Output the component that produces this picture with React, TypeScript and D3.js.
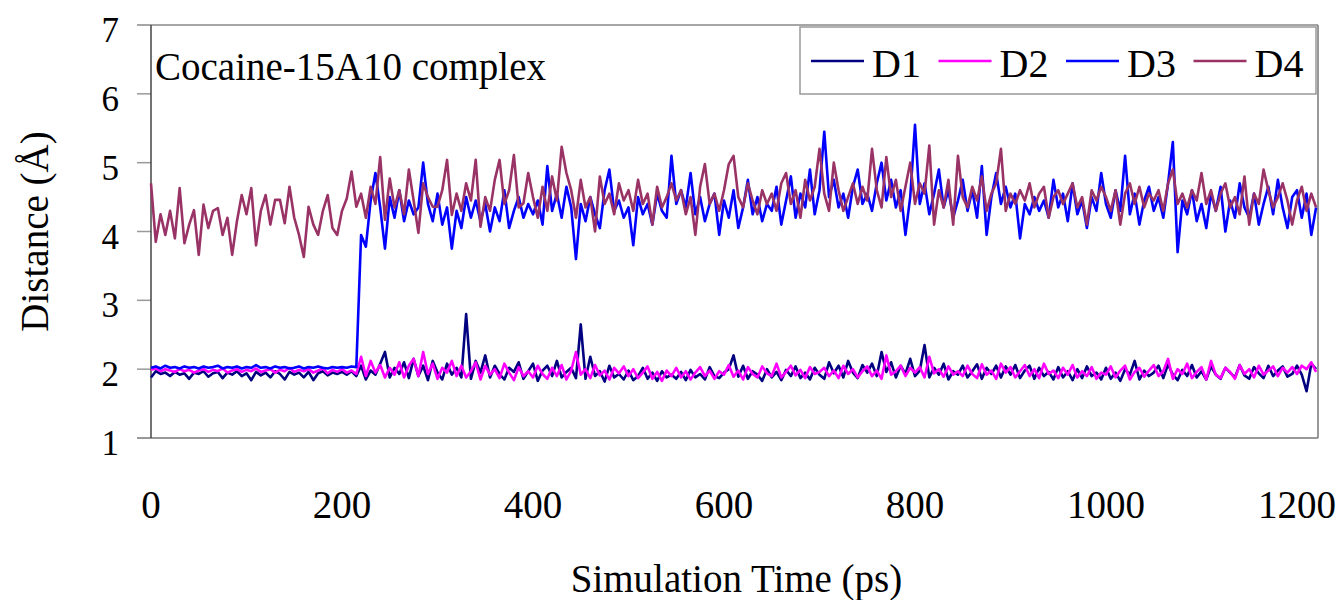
import React from 'react';
import * as d3 from 'd3';

// time axis: one sample every 5 ps, 0 .. 1220 ps
const STEP = 5;

const seriesNames = ['D1', 'D2', 'D3', 'D4'];
const seriesColors = ['#000080', '#FF00FF', '#0000FF', '#993366'];

const yTicks = [1, 2, 3, 4, 5, 6, 7];
const xTicks = [0, 200, 400, 600, 800, 1000, 1200];

const d1 = [
  1.88, 1.97, 1.93, 1.95, 1.90, 1.96, 1.92, 1.94, 1.86, 1.95,
  1.93, 1.97, 1.89, 1.94, 1.96, 1.87, 1.95, 1.92, 1.97, 1.90,
  1.94, 1.84, 1.96, 1.91, 1.95, 1.88, 1.97, 1.93, 1.85, 1.96,
  1.92, 1.95, 1.88, 1.96, 1.84, 1.94, 1.97, 1.91, 1.95, 1.93,
  1.96, 1.92, 1.97, 1.90, 2.05, 1.85, 1.98, 1.92, 2.08, 2.25,
  1.88, 2.02, 1.93, 2.10, 1.87, 2.15, 1.90, 2.05, 1.84, 2.12,
  1.95, 1.85, 2.08, 1.92, 2.02, 1.88, 2.80, 1.86, 2.12, 1.95,
  2.20, 1.88, 2.05, 1.93, 1.85, 2.02, 1.96, 2.10, 1.86, 1.97,
  2.08, 1.83, 1.98, 2.05, 1.90, 2.12, 1.88, 1.96, 2.02, 1.87,
  2.65, 1.86, 2.18, 1.90, 1.97, 1.82, 2.05, 1.88, 1.93, 1.85,
  1.98, 1.84, 1.90, 2.02, 1.86, 1.95, 1.83, 1.97, 1.88, 1.92,
  1.86, 1.96, 1.84, 1.99, 1.88, 1.93, 1.85, 2.03, 1.90, 1.87,
  1.95, 2.00, 2.20, 1.89, 2.05, 1.86, 1.97, 1.92, 1.83, 2.00,
  1.88, 1.96, 1.84, 1.99, 1.90, 2.04, 1.87, 1.95, 1.85, 2.02,
  1.92, 1.86, 2.10, 1.94, 2.05, 1.88, 2.12, 1.95, 1.87, 2.06,
  1.95, 2.08, 1.90, 2.25, 1.96, 2.10, 1.88, 2.05, 1.93, 2.15,
  1.90, 1.98, 2.35, 1.88, 2.02, 1.92, 2.08, 1.85, 1.97, 1.92,
  2.05, 1.88, 1.97, 2.07, 1.86, 2.02, 1.93, 2.05, 1.88, 2.04,
  1.92, 2.06, 1.87, 1.98, 2.05, 1.86, 2.02, 1.90, 1.96, 1.85,
  2.03, 1.88, 1.97, 1.84, 2.00, 1.87, 2.04, 1.90, 1.95, 1.85,
  2.02, 1.86, 1.95, 1.83, 2.00, 1.92, 2.12, 1.85, 1.98, 1.90,
  1.95, 2.05, 1.87, 2.07, 1.92, 1.84, 1.99, 1.90, 2.06, 1.88,
  1.97, 1.85, 2.04, 1.92, 1.86, 2.02, 1.95, 1.88, 2.06, 1.91,
  1.86, 2.03, 1.94, 1.87, 2.05, 1.90, 1.98, 2.04, 1.89, 1.93,
  2.05, 1.92, 1.68, 2.08, 2.00,
];

const d2 = [
  1.99, 2.01, 1.97, 2.00, 1.98, 1.96, 2.00, 1.97, 1.99, 1.95,
  1.98, 2.00, 1.96, 1.99, 1.97, 2.01, 1.95, 1.98, 2.00, 1.96,
  1.99, 1.97, 2.01, 1.96, 1.98, 2.00, 1.95, 1.99, 1.97, 2.02,
  1.96, 1.99, 1.97, 2.00, 1.95, 1.98, 2.01, 1.94, 1.99, 1.96,
  2.00, 1.95, 1.98, 1.93, 2.18, 1.90, 2.12, 1.95, 2.06, 1.88,
  2.02, 1.92, 2.10, 1.88, 2.05, 2.15, 1.90, 2.25, 1.93, 2.08,
  1.86, 2.02, 1.95, 2.12, 1.90, 2.05, 1.88, 1.97, 2.10, 1.85,
  2.05, 1.92, 2.00, 1.87, 2.08, 1.95, 1.84, 2.03, 1.90, 1.97,
  1.88, 2.05, 1.93, 1.86, 2.02, 1.90, 2.06, 1.85, 1.98, 2.25,
  1.92, 2.00, 1.87, 2.06, 1.91, 1.98, 1.85, 2.02, 1.94, 2.04,
  1.90, 2.00, 1.87, 1.95, 2.04, 1.86, 1.96, 1.83, 1.98, 1.90,
  2.02, 1.88, 1.97, 1.85, 1.95, 2.03, 1.90, 1.98, 1.86, 1.97,
  1.92, 2.06, 1.89, 1.98, 1.85, 2.03, 1.93, 1.88, 2.04, 1.94,
  1.90, 2.08, 1.88, 1.96, 2.05, 1.91, 1.99, 1.87, 2.03, 1.93,
  1.96, 2.02, 1.90, 1.98, 1.87, 2.05, 1.93, 2.00, 1.88, 1.97,
  2.04, 1.90, 1.98, 1.86, 2.20, 1.92, 1.97, 2.05, 1.90, 2.02,
  1.95, 2.03, 1.88, 2.18, 1.94, 2.00, 1.89, 2.04, 1.92, 1.97,
  1.90, 2.05, 1.93, 1.87, 2.07, 1.92, 1.98, 1.86, 2.08, 1.95,
  2.03, 1.88, 1.97, 2.06, 1.90, 2.00, 1.87, 2.08, 1.93, 1.98,
  1.87, 2.02, 1.92, 2.06, 1.88, 1.97, 1.90, 2.03, 1.86, 1.95,
  1.92, 2.04, 1.88, 1.98, 2.05, 1.85, 1.96, 2.02, 1.89, 1.98,
  2.06, 1.90, 1.97, 2.15, 1.86, 2.00, 1.93, 2.08, 1.87, 1.96,
  2.03, 1.85, 2.12, 1.92, 1.87, 2.02, 1.96, 1.86, 2.06, 1.93,
  2.00, 1.88, 2.05, 1.92, 1.98, 2.04, 1.90, 2.02, 1.95, 2.03,
  1.93, 2.05, 2.00, 2.10, 1.96,
];

const d3v = [
  2.02, 2.04, 2.01, 2.05, 2.02, 2.03, 2.01, 2.04, 2.02, 2.03,
  2.01, 2.04, 2.02, 2.03, 2.05, 2.01, 2.03, 2.02, 2.04, 2.01,
  2.03, 2.02, 2.06, 2.02, 2.03, 2.01, 2.04, 2.02, 2.03, 2.01,
  2.02, 2.04, 2.01, 2.03, 2.02, 2.04, 2.02, 2.01, 2.03, 2.02,
  2.03, 2.02, 2.04, 2.03, 3.95, 3.78, 4.45, 4.85, 4.35, 3.75,
  4.50, 4.20, 4.60, 4.15, 4.45, 4.25, 4.35, 5.00, 4.40, 4.15,
  4.55, 4.10, 4.35, 3.75, 4.30, 4.05, 4.50, 4.20, 4.45, 4.15,
  4.40, 4.00, 4.35, 4.15, 4.60, 4.05, 4.30, 4.50, 4.20, 4.40,
  4.25, 4.45, 4.10, 4.95, 4.30, 4.55, 4.20, 4.65, 4.35, 3.60,
  4.40, 4.15, 4.50, 4.25, 4.05, 4.60, 4.90, 4.30, 4.45, 4.20,
  4.35, 3.80, 4.50, 4.25, 4.40, 4.10, 4.55, 4.30, 4.20, 5.10,
  4.40, 4.60, 4.35, 4.85, 4.25, 4.50, 4.15, 4.40, 4.55, 3.95,
  4.45, 4.20, 4.60, 4.05, 4.35, 4.75, 4.25, 4.50, 4.15, 4.40,
  4.30, 4.65, 4.10, 4.45, 4.80, 4.20, 4.55, 4.35, 4.90, 4.25,
  4.60, 5.45, 4.50, 4.75, 4.35, 4.55, 4.20, 4.65, 4.90, 4.40,
  4.55, 4.30, 4.70, 5.00, 4.45, 4.75, 4.35, 4.60, 3.95, 4.50,
  5.55, 4.40, 4.70, 4.25, 4.55, 4.90, 4.35, 4.60, 4.20, 4.45,
  4.75, 4.30, 4.60, 4.20, 4.95, 3.95, 4.50, 4.85, 4.40, 4.65,
  4.35, 4.55, 3.90, 4.40, 4.25, 4.50, 4.30, 4.45, 4.20, 4.75,
  4.35, 4.55, 4.15, 4.70, 4.25, 4.45, 4.05, 4.50, 4.30, 4.85,
  4.40, 4.20, 4.60, 4.30, 5.10, 4.25, 4.55, 4.10, 4.45, 4.65,
  4.30, 4.50, 4.20, 4.70, 5.30, 3.70, 4.45, 4.25, 4.60, 4.15,
  4.40, 4.05, 4.55, 4.30, 4.65, 4.00, 4.45, 4.20, 4.70, 4.35,
  4.20, 4.55, 4.10, 4.40, 4.65, 4.25, 4.75, 4.35, 4.05, 4.50,
  4.60, 4.20, 4.55, 3.95, 4.35,
];

const d4 = [
  4.70, 3.85, 4.25, 3.95, 4.30, 3.90, 4.63, 3.83, 4.10, 4.31,
  3.66, 4.39, 4.05, 4.30, 4.34, 3.95, 4.20, 3.66, 4.15, 4.53,
  4.25, 4.63, 3.80, 4.30, 4.53, 4.10, 4.46, 4.46, 4.12, 4.65,
  4.20, 3.95, 3.63, 4.36, 4.10, 3.95, 4.30, 4.53, 4.05, 3.95,
  4.30, 4.48, 4.87, 4.36, 4.55, 4.20, 4.65, 4.40, 5.08, 4.17,
  4.77, 4.35, 4.60, 4.25, 4.90, 4.45, 3.98, 4.70, 4.50, 4.36,
  4.36, 4.60, 5.04, 4.24, 4.55, 4.30, 4.70, 4.45, 5.04, 4.07,
  4.50, 4.30, 4.75, 5.04, 4.40, 4.60, 5.11, 4.35, 4.41, 4.85,
  4.50, 4.20, 4.65, 4.30, 4.80, 4.45, 5.23, 4.85, 4.60, 4.20,
  4.75, 4.35, 4.50, 4.00, 4.80, 4.40, 4.55, 4.25, 4.70, 4.45,
  4.60, 4.30, 4.75, 4.40, 4.55, 4.10, 4.65, 4.35, 4.50, 4.70,
  4.45, 4.60, 4.25, 4.50, 3.95, 4.65, 4.98, 4.40, 4.55, 4.30,
  4.60, 4.98, 5.10, 4.50, 4.35, 4.70, 4.45, 4.25, 4.60, 4.40,
  4.55, 4.30, 4.70, 4.85, 4.40, 4.60, 4.20, 4.75, 4.45, 4.65,
  5.20, 4.55, 4.30, 5.00, 4.60, 4.30, 4.50, 4.70, 4.40, 4.65,
  4.45, 5.20, 4.60, 4.35, 5.08, 4.50, 4.75, 4.30, 4.65, 5.00,
  4.40, 4.70, 4.55, 5.25, 4.10, 4.60, 4.35, 4.75, 4.10, 5.10,
  4.50, 4.35, 4.65, 4.45, 4.80, 4.30, 4.55, 4.70, 5.20, 4.30,
  4.55, 4.40, 4.60, 4.45, 4.70, 4.35, 4.55, 4.65, 4.20, 4.50,
  4.60, 4.40, 4.55, 4.70, 4.35, 4.50, 4.10, 4.60, 4.45, 4.65,
  4.50, 4.30, 4.60, 4.10, 4.55, 4.70, 4.40, 4.65, 4.35, 4.55,
  4.45, 4.60, 4.30, 4.70, 4.90, 4.40, 4.55, 4.35, 4.60, 4.45,
  4.85, 4.40, 4.60, 4.30, 4.55, 4.70, 4.35, 4.50, 4.25, 4.80,
  4.10, 4.55, 4.40, 4.90, 4.60, 4.35, 4.50, 4.70, 4.45, 4.10,
  4.45, 4.65, 4.30, 4.55, 4.35,
];

const seriesValues = [d1, d2, d3v, d4];

const FONT = "'Liberation Serif', 'DejaVu Serif', serif";

export default function App() {
  const width = 1340;
  const height = 600;
  const left = 151;
  const right = 1318;
  const top = 25;
  const bottom = 438;

  const x = d3.scaleLinear().domain([0, 1222]).range([left, right]);
  const y = d3.scaleLinear().domain([1, 7]).range([bottom, top]);

  const line = d3
    .line<number>()
    .x((_, i) => x(i * STEP))
    .y((v) => y(v));

  // legend layout
  const legX = 800;
  const legItemW = 127.5;

  return (
    <svg
      width={width}
      height={height}
      style={{ position: 'absolute', left: 0, top: 0, background: '#fff', fontFamily: FONT }}
    >
      {/* frame */}
      <line x1={137} x2={right} y1={top} y2={top} stroke="#888" strokeWidth={1.5} />
      <line x1={right} x2={right} y1={top} y2={bottom} stroke="#777" strokeWidth={1.5} />
      {yTicks.slice(1, -1).map((t) => (
        <line key={t} x1={137} x2={left} y1={y(t)} y2={y(t)} stroke="#999" strokeWidth={1.5} />
      ))}
      <line x1={137} x2={right} y1={bottom} y2={bottom} stroke="#777" strokeWidth={1.5} />
      <line x1={left} x2={left} y1={top} y2={bottom} stroke="#444" strokeWidth={1.5} />

      {/* series */}
      {seriesValues.map((vals, i) => (
        <path
          key={seriesNames[i]}
          d={line(vals) || ''}
          fill="none"
          stroke={seriesColors[i]}
          strokeWidth={2.6}
          strokeLinejoin="round"
        />
      ))}

      {/* y tick labels */}
      {yTicks.map((t) => (
        <text key={t} x={119} y={y(t) + 17} fontSize={35} textAnchor="end">
          {t}
        </text>
      ))}

      {/* x tick labels */}
      {xTicks.map((t) => (
        <text key={t} x={x(t)} y={518} fontSize={39} textAnchor="middle">
          {t}
        </text>
      ))}

      {/* axis titles */}
      <text x={(left + right) / 2 + 2} y={592} fontSize={39} textAnchor="middle">
        Simulation Time (ps)
      </text>
      <text
        transform={`translate(48, ${(top + bottom) / 2}) rotate(-90)`}
        fontSize={39}
        textAnchor="middle"
      >
        Distance (Å)
      </text>

      {/* inner title */}
      <text x={155} y={80} fontSize={39}>
        Cocaine-15A10 complex
      </text>

      {/* legend */}
      <rect x={legX} y={27} width={right - 2 - legX} height={67} fill="#fff" stroke="#999" strokeWidth={1.5} />
      {seriesNames.map((name, i) => (
        <g key={name} transform={`translate(${legX + 11 + i * legItemW}, 0)`}>
          <line x1={0} x2={53} y1={61} y2={61} stroke={seriesColors[i]} strokeWidth={2.6} />
          <text x={61} y={77} fontSize={40}>
            {name}
          </text>
        </g>
      ))}
    </svg>
  );
}
